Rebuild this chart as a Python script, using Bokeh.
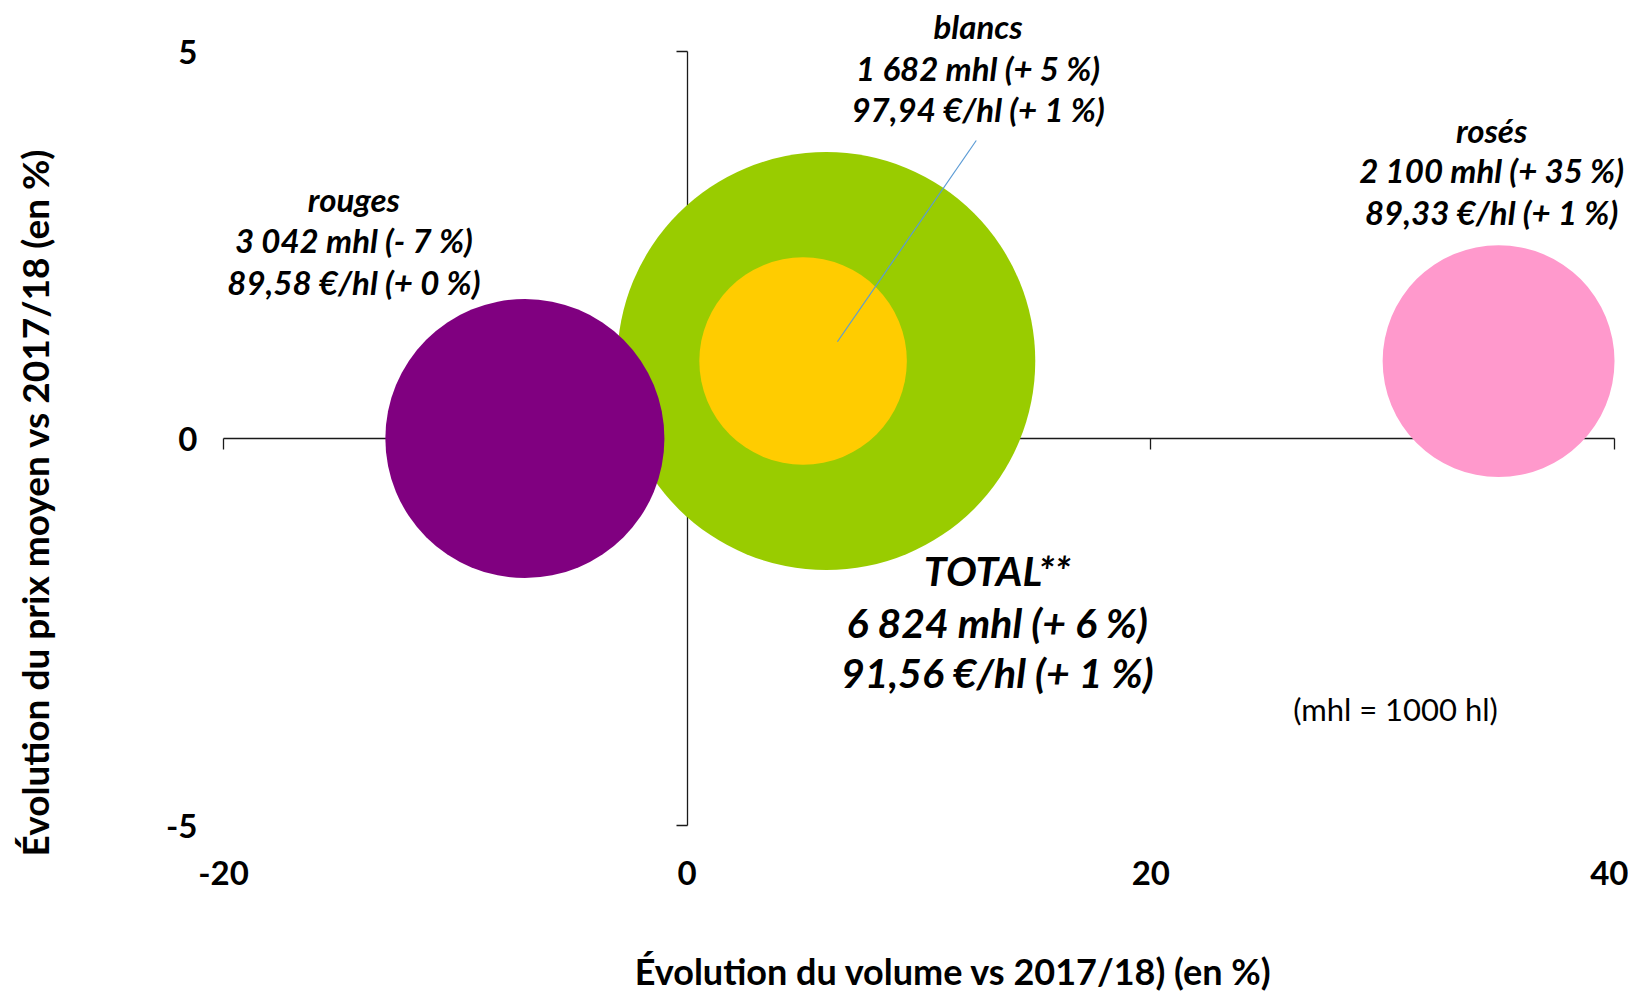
import math
from bokeh.plotting import figure
from bokeh.models import Range1d, LinearAxis, FixedTicker, Label
from bokeh.embed import file_html
from bokeh.resources import INLINE

# ---------------- data ----------------
names = ["rouges", "blancs", "rosés", "TOTAL**"]
vol_change = [-7, 5, 35, 6]            # % change in volume vs 2017/18 (x)
price_change = [0, 1, 1, 1]            # % change in average price vs 2017/18 (y)
volume_mhl = [3042, 1682, 2100, 6824]  # bubble size (volume, mhl)
price_eur_hl = [89.58, 97.94, 89.33, 91.56]
colors = ["#800080", "#FFCC00", "#FF99CC", "#99CC00"]

x_ticks = [-20, 0, 20, 40]
y_ticks = [-5, 0, 5]
x_lo, x_hi = -20, 40
y_lo, y_hi = -5, 5

# ---------------- layout / style ----------------
W, H = 1628, 994
AX_LEFT, AX_RIGHT = 223, 1614     # px where x_lo / x_hi sit
AX_TOP, AX_BOTTOM = 51, 825       # px where y_hi / y_lo sit
ppx = (AX_RIGHT - AX_LEFT) / (x_hi - x_lo)
ppy = (AX_BOTTOM - AX_TOP) / (y_hi - y_lo)
xr = Range1d(x_lo - AX_LEFT / ppx, x_hi + (W - AX_RIGHT) / ppx)
yr = Range1d(y_lo - (H - AX_BOTTOM) / ppy, y_hi + AX_TOP / ppy)

draw_order = [3, 0, 1, 2]
px_per_sqrt_mhl = 2.53
FONT = "Lato"
label_dx = [-171, 175, -7, 171]
label_dy = [[240, 199, 157], [335, 293, 252], [231, 191, 149], [-209, -261, -311]]
label_size = ["33px", "33px", "33px", "41px"]
AXIS_COLOR = "#1a1a1a"


def signed(v):
    return ("+ " if v >= 0 else "- ") + str(abs(v)) + " %"


def fmt_vol(v, c):
    return f"{v:,}".replace(",", " ") + " mhl (" + signed(c) + ")"


def fmt_price(p_, c):
    return f"{p_:.2f}".replace(".", ",") + " €/hl (" + signed(c) + ")"


p = figure(
    x_range=xr, y_range=yr, width=W, height=H, min_border=0,
    output_backend="svg", toolbar_location=None,
    x_axis_location=None, y_axis_location=None,
)
p.outline_line_color = None
p.xgrid.visible = False
p.ygrid.visible = False
p.background_fill_color = "white"

# tick-label axes (labels only) at the low edges of the axis box
common_lbl = dict(
    axis_line_color=None, major_tick_line_color=None, minor_tick_line_color=None,
    major_tick_out=0, major_tick_in=0,
    major_label_text_font=FONT, major_label_text_font_style="bold",
    major_label_text_font_size="33px", major_label_text_color="black",
)
xlab = LinearAxis(fixed_location=y_lo, ticker=FixedTicker(ticks=x_ticks),
                  major_label_standoff=35,
                  major_label_overrides={t: str(t) for t in x_ticks}, **common_lbl)
ylab = LinearAxis(fixed_location=x_lo, ticker=FixedTicker(ticks=y_ticks),
                  major_label_standoff=26,
                  major_label_overrides={t: str(t) for t in y_ticks}, **common_lbl)
p.add_layout(xlab, "below")
p.add_layout(ylab, "left")

# axis lines crossing at the origin
common_fix = dict(
    fixed_location=0, major_tick_out=11, major_tick_in=0,
    minor_tick_line_color=None,
    axis_line_color=AXIS_COLOR, major_tick_line_color=AXIS_COLOR,
    axis_line_width=1.3, major_tick_line_width=1.3, level="underlay",
)
xfix = LinearAxis(ticker=FixedTicker(ticks=x_ticks), bounds=(x_lo, x_hi),
                  major_label_overrides={t: "" for t in x_ticks}, **common_fix)
yfix = LinearAxis(ticker=FixedTicker(ticks=y_ticks), bounds=(y_lo, y_hi),
                  major_label_overrides={t: "" for t in y_ticks}, **common_fix)
p.add_layout(xfix, "below")
p.add_layout(yfix, "left")

# bubbles (area proportional to volume)
for i in draw_order:
    p.scatter([vol_change[i]], [price_change[i]],
              size=2 * px_per_sqrt_mhl * math.sqrt(volume_mhl[i]),
              fill_color=colors[i], line_color=None)

# leader line for blancs
bi = 1
p.segment(x0=[vol_change[bi] + 7.47], y0=[price_change[bi] + 2.85],
          x1=[vol_change[bi] + 1.48], y1=[price_change[bi] + 0.25],
          line_color="#5B9BD5", line_width=1.2)

# data labels
for i in range(len(names)):
    lines = [names[i], fmt_vol(volume_mhl[i], vol_change[i]),
             fmt_price(price_eur_hl[i], price_change[i])]
    for t, dy in zip(lines, label_dy[i]):
        p.add_layout(Label(
            x=vol_change[i], y=price_change[i], x_offset=label_dx[i], y_offset=dy,
            text=t, text_font=FONT, text_font_style="bold italic",
            text_font_size=label_size[i], text_align="center", text_baseline="middle",
            text_color="black"))

p.add_layout(Label(x=1395, y=H - 708, x_units="screen", y_units="screen",
                   text="(mhl = 1000 hl)", text_font=FONT, text_font_size="31px",
                   text_align="center", text_baseline="middle", text_color="black"))

# axis titles
p.add_layout(Label(x=953, y=H - 970, x_units="screen", y_units="screen",
                   text="Évolution du volume vs 2017/18) (en %)", text_font=FONT,
                   text_font_style="bold", text_font_size="36px",
                   text_align="center", text_baseline="middle", text_color="black"))
p.add_layout(Label(x=34, y=H - 502, x_units="screen", y_units="screen", angle=math.pi / 2,
                   text="Évolution du prix moyen vs 2017/18 (en %)", text_font=FONT,
                   text_font_style="bold", text_font_size="37px",
                   text_align="center", text_baseline="middle", text_color="black"))

open("out.html", "w").write(file_html(p, INLINE))
